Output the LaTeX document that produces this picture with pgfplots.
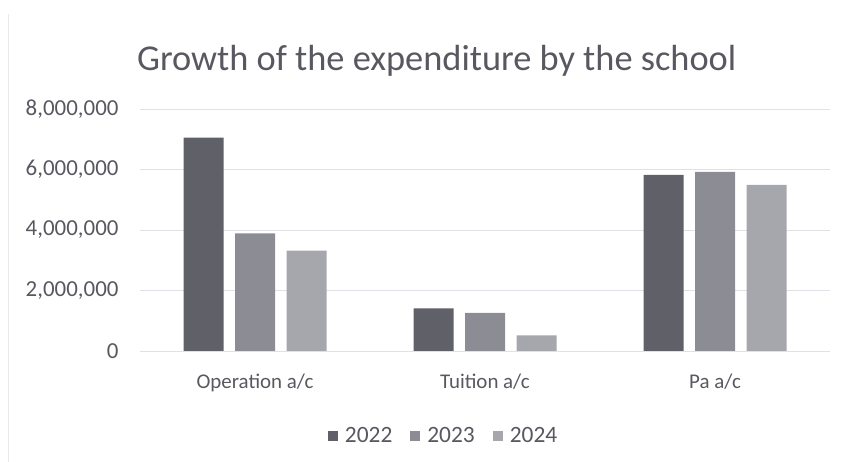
\documentclass[border=0pt]{standalone}
\usepackage{fontspec}
\setmainfont{Carlito}
\usepackage{pgfplots}
\pgfplotsset{compat=1.18}

\definecolor{txt}{RGB}{88,88,96}
\definecolor{gridc}{RGB}{224,224,230}
\definecolor{cA}{RGB}{96,96,104}
\definecolor{cB}{RGB}{140,140,148}
\definecolor{cC}{RGB}{166,166,173}

\begin{document}
\begin{tikzpicture}
  % canvas of the reference, 1 px = 1 bp
  \path[use as bounding box] (0,0) rectangle (853bp,462bp);
  \draw[gridc!70, line width=0.8bp] (8.5bp,0) -- (8.5bp,448bp);

  \begin{axis}[
      at={(140bp,111bp)}, anchor=south west,
      scale only axis,
      width=690bp, height=242bp,
      ybar=11.5bp, bar width=40bp,
      xmin=-0.5, xmax=2.5,
      ymin=0, ymax=8000000,
      xtick={0,1,2},
      xticklabels={Operation a/c, Tuition a/c, Pa a/c},
      ytick={0,2000000,4000000,6000000,8000000},
      scaled y ticks=false,
      yticklabel={\pgfmathprintnumber[fixed, 1000 sep={,}]{\tick}},
      /pgf/number format/assume math mode=true,
      xmajorgrids=false, ymajorgrids=true,
      grid style={draw=gridc, line width=0.8bp},
      axis line style={draw=none},
      major tick length=0pt,
      tick label style={text=txt},
      yticklabel style={font=\fontsize{23}{27}\selectfont, xshift=-18bp},
      xticklabel style={font=\fontsize{21}{25}\selectfont, yshift=-19bp},
      title={Growth of the expenditure by the school},
      title style={at={(0.43,1.173)}, anchor=center,
        font=\fontsize{36.5}{42}\selectfont, text=txt},
      legend columns=3,
      legend style={at={(0.44,-0.351)}, anchor=center, draw=none,
        font=\fontsize{23.5}{27}\selectfont, text=txt,
        /tikz/every even column/.append style={column sep=16bp}},
      legend image code/.code={
        \fill[#1] (0bp,-5bp) rectangle (10bp,5bp);
        \path (15bp,0bp);},
    ]
    \addplot[fill=cA, draw=none] coordinates {(0,7050000) (1,1410000) (2,5820000)};
    \addplot[fill=cB, draw=none] coordinates {(0,3890000) (1,1260000) (2,5920000)};
    \addplot[fill=cC, draw=none] coordinates {(0,3320000) (1,520000) (2,5490000)};
    \legend{2022, 2023, 2024}
  \end{axis}
\end{tikzpicture}
\end{document}
